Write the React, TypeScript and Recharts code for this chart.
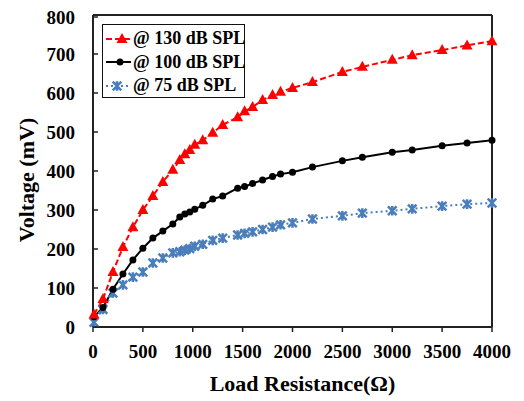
import { LineChart, Line, XAxis, YAxis, ReferenceLine } from 'recharts';

// load resistance (ohm) and measured voltages (mV)
const resistance = [10, 100, 200, 300, 400, 500, 600, 700, 800, 870, 920, 970, 1020, 1100, 1200, 1300, 1450, 1520, 1600, 1700, 1800, 1880, 2000, 2200, 2500, 2700, 3000, 3200, 3500, 3750, 4000];
const spl130 = [32, 72, 141, 205, 256, 300, 336, 372, 403, 428, 443, 454, 467, 479, 498, 518, 538, 553, 564, 582, 595, 603, 613, 628, 654, 667, 685, 697, 710, 722, 733];
const spl100 = [26, 50, 97, 136, 172, 202, 228, 246, 264, 282, 290, 295, 302, 312, 328, 336, 356, 360, 368, 377, 386, 392, 397, 410, 426, 435, 448, 454, 465, 472, 479];
const spl75 = [12, 45, 87, 108, 128, 141, 164, 177, 190, 193, 197, 201, 207, 212, 222, 228, 236, 240, 244, 250, 256, 262, 267, 277, 285, 292, 298, 303, 310, 315, 318];

const seriesNames = ['@ 130 dB SPL', '@ 100 dB SPL', '@ 75 dB SPL'];
const xTicks = [0, 500, 1000, 1500, 2000, 2500, 3000, 3500, 4000];
const yTicks = [0, 100, 200, 300, 400, 500, 600, 700, 800];

const RED = '#ff0000';
const BLACK = '#000000';
const BLUE = '#4a7ebb';
const FONT = '"Liberation Serif", "Times New Roman", serif';

const data = resistance.map((r, i) => ({ r, a: spl130[i], b: spl100[i], c: spl75[i] }));

function Triangle({ cx, cy }: any) {
  return <polygon points={`${cx},${cy - 6} ${cx - 5.5},${cy + 4} ${cx + 5.5},${cy + 4}`} fill={RED} />;
}

function Dot({ cx, cy }: any) {
  return <circle cx={cx} cy={cy} r={3.5} fill={BLACK} />;
}

function Star({ cx, cy }: any) {
  const s = 4.3;
  return (
    <path
      d={`M${cx - s},${cy - s}L${cx + s},${cy + s}M${cx + s},${cy - s}L${cx - s},${cy + s}M${cx},${cy - s - 0.5}L${cx},${cy + s + 0.5}`}
      stroke={BLUE}
      strokeWidth={2.5}
      fill="none"
    />
  );
}

function YTick({ x, y, payload }: any) {
  return (
    <g>
      <line x1={x + 18} x2={x + 23} y1={y} y2={y} stroke="#222" strokeWidth={1.5} />
      <text x={x} y={y} dy="0.35em" textAnchor="end" fontFamily={FONT} fontWeight="bold" fontSize={19} fill="#000">
        {payload.value}
      </text>
    </g>
  );
}

function LegendBox() {
  const rows = [
    { name: seriesNames[0], color: RED, dash: '6 3', marker: 'tri' },
    { name: seriesNames[1], color: BLACK, dash: undefined, marker: 'dot' },
    { name: seriesNames[2], color: BLUE, dash: '2 3', marker: 'star' },
  ];
  return (
    <div style={{ position: 'absolute', top: 16, left: 94, border: '1.5px solid #111', width: 143, height: 74, background: '#fff', boxSizing: 'border-box', paddingTop: 2 }}>
      {rows.map((row) => (
        <div key={row.name} style={{ display: 'flex', alignItems: 'center', height: 23.5 }}>
          <svg width={30} height={20} style={{ flex: 'none' }}>
            <line x1={3} x2={28} y1={10} y2={10} stroke={row.color} strokeWidth={2} strokeDasharray={row.dash} />
            {row.marker === 'tri' && <Triangle cx={19} cy={10} />}
            {row.marker === 'dot' && <Dot cx={17} cy={10} />}
            {row.marker === 'star' && <Star cx={14} cy={10} />}
          </svg>
          <span style={{ fontFamily: FONT, fontWeight: 'bold', fontSize: 18, color: '#000', whiteSpace: 'nowrap' }}>{row.name}</span>
        </div>
      ))}
    </div>
  );
}

export default function App() {
  return (
    <div style={{ position: 'relative', width: 508, height: 393 }}>
      <LineChart width={508} height={393} data={data} margin={{ top: 7, right: 24, bottom: 8, left: 0 }}>
        <XAxis
          dataKey="r"
          type="number"
          domain={[0, 4000]}
          ticks={xTicks}
          height={66}
          tickSize={5}
          tickMargin={13}
          axisLine={{ stroke: '#222', strokeWidth: 2 }}
          tickLine={{ stroke: '#222', strokeWidth: 1.5 }}
          tick={{ fontFamily: FONT, fontWeight: 'bold', fontSize: 19, fill: '#000' }}
          label={(props: any) => {
            const vb = props.viewBox;
            return (
              <text x={vb.x + vb.width / 2 + 10} y={vb.y + 64} textAnchor="middle" fontFamily={FONT} fontWeight="bold" fontSize={22} fill="#000">
                Load Resistance(Ω)
              </text>
            );
          }}
        />
        <YAxis
          type="number"
          domain={[0, 800]}
          ticks={yTicks}
          width={85}
          tickSize={0}
          tickMargin={18}
          tickLine={false}
          axisLine={{ stroke: '#222', strokeWidth: 2 }}
          tick={<YTick />}
          label={(props: any) => {
            const vb = props.viewBox;
            const cx = vb.x + 18;
            const cy = vb.y + vb.height / 2 + 9;
            return (
              <text x={cx} y={cy} transform={`rotate(-90 ${cx} ${cy})`} textAnchor="middle" dy="0.35em" fontFamily={FONT} fontWeight="bold" fontSize={22} fill="#000">
                Voltage (mV)
              </text>
            );
          }}
        />
        <ReferenceLine y={800} stroke="#222" strokeWidth={2} />
        <ReferenceLine x={4000} stroke="#222" strokeWidth={2} />
        <Line dataKey="c" name={seriesNames[2]} stroke={BLUE} strokeWidth={2} strokeDasharray="2 3" dot={(p: any) => <Star key={p.index} cx={p.cx} cy={p.cy} />} isAnimationActive={false} />
        <Line dataKey="b" name={seriesNames[1]} stroke={BLACK} strokeWidth={2} dot={(p: any) => <Dot key={p.index} cx={p.cx} cy={p.cy} />} isAnimationActive={false} />
        <Line dataKey="a" name={seriesNames[0]} stroke={RED} strokeWidth={2} strokeDasharray="6 3" dot={(p: any) => <Triangle key={p.index} cx={p.cx} cy={p.cy} />} isAnimationActive={false} />
      </LineChart>
      <LegendBox />
    </div>
  );
}
